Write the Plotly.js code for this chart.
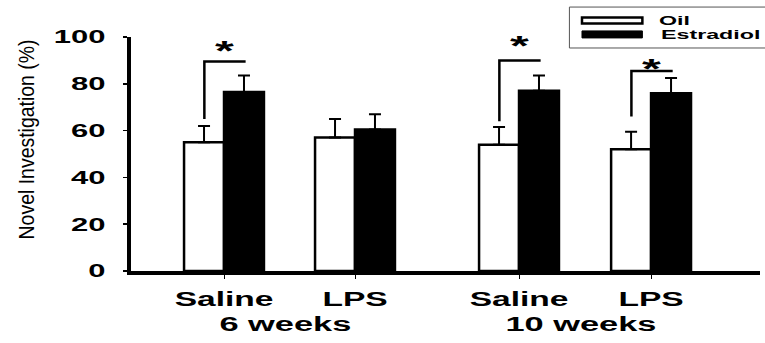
<!DOCTYPE html>
<html>
<head>
<meta charset="utf-8">
<script src="https://cdn.plot.ly/plotly-3.0.1.min.js"></script>
<style>
  html, body { margin: 0; padding: 0; background: #fff; }
  #chart { width: 765px; height: 343px; }
</style>
</head>
<body>
<div id="chart"></div>
<script>
// ---- data ----
const ageGroups = ['6 weeks', '10 weeks'];
const treatments = ['Saline', 'LPS', 'Saline', 'LPS'];
const seriesNames = ['Oil', 'Estradiol'];
const oilMean = [55, 57, 54, 52];
const oilSem = [7, 8, 7.5, 7.5];
const e2Mean = [76.5, 60.5, 77, 76];
const e2Sem = [7, 6.5, 6.5, 6.5];
const yTicks = [0, 20, 40, 60, 80, 100];
const yTitle = 'Novel Investigation (%)';
const sigIndex = [0, 2, 3];          // groups with significant Oil vs Estradiol difference
const sigLow = [65, 64, 66];         // bracket start (above oil bar)
const sigHigh = [89.5, 90, 85.5];    // bracket top
const starLevel = [95.7, 98, 88];    // star visual centre

// ---- layout constants ----
const groupPos = [0, 1, 2.252, 3.26];
const barW = 0.305;
const FONT = 'Liberation Sans, Arial, sans-serif';
const STRETCH = 1.72;

const oilX = groupPos.map(p => p - barW / 2);
const e2X = groupPos.map(p => p + barW / 2);

const traces = [
  {
    type: 'bar', name: seriesNames[0], x: oilX, y: oilMean, width: barW,
    marker: { color: '#ffffff', line: { color: '#000', width: 2.5 } },
    error_y: { type: 'data', symmetric: false, array: oilSem, arrayminus: oilSem.map(() => 0),
               color: '#000', thickness: 2, width: 6 },
    showlegend: false, hoverinfo: 'skip'
  },
  {
    type: 'bar', name: seriesNames[1], x: e2X, y: e2Mean, width: barW,
    marker: { color: '#000000', line: { color: '#000', width: 2.5 } },
    error_y: { type: 'data', symmetric: false, array: e2Sem, arrayminus: e2Sem.map(() => 0),
               color: '#000', thickness: 2, width: 6 },
    showlegend: false, hoverinfo: 'skip'
  }
];

const shapes = [];
const annotations = [];

// significance brackets and stars
sigIndex.forEach((g, k) => {
  const xa = groupPos[g] - 0.15, xb = groupPos[g] + 0.165;
  shapes.push({ type: 'path', xref: 'x', yref: 'y',
    path: `M ${xa} ${sigLow[k]} L ${xa} ${sigHigh[k]} L ${xb} ${sigHigh[k]}`,
    line: { color: '#000', width: 2.5 } });
  annotations.push({ xref: 'x', yref: 'y', x: groupPos[g] + 0.005, y: starLevel[k] - 1.5,
    text: '*', showarrow: false, xanchor: 'center', yanchor: 'middle',
    font: { family: FONT, size: 28, color: '#000', weight: 'bold' } });
});

// age group labels
ageGroups.forEach((lab, i) => {
  const x = (groupPos[2 * i] + groupPos[2 * i + 1]) / 2 - 0.03;
  annotations.push({ xref: 'x', yref: 'paper', x: x, y: -0.226, text: lab, showarrow: false,
    xanchor: 'center', yanchor: 'middle',
    font: { family: FONT, size: 20, color: '#000', weight: 'bold' } });
});

// manual legend (paper coords)
shapes.push({ type: 'rect', xref: 'paper', yref: 'paper', x0: 0.697, x1: 1.015, y0: 0.953, y1: 1.128,
  line: { color: '#555', width: 1 }, fillcolor: '#fff' });
shapes.push({ type: 'rect', xref: 'paper', yref: 'paper', x0: 0.717, x1: 0.813, y0: 1.058, y1: 1.083,
  line: { color: '#000', width: 2.5 }, fillcolor: '#fff' });
shapes.push({ type: 'rect', xref: 'paper', yref: 'paper', x0: 0.717, x1: 0.813, y0: 0.996, y1: 1.026,
  line: { color: '#000', width: 1 }, fillcolor: '#000' });
annotations.push({ xref: 'paper', yref: 'paper', x: 0.836, y: 1.07, text: seriesNames[0], showarrow: false,
  xanchor: 'left', yanchor: 'middle', font: { family: FONT, size: 13.5, color: '#000', weight: 'bold' } });
annotations.push({ xref: 'paper', yref: 'paper', x: 0.839, y: 1.01, text: seriesNames[1], showarrow: false,
  xanchor: 'left', yanchor: 'middle', font: { family: FONT, size: 13.5, color: '#000', weight: 'bold' } });

// y-axis title
annotations.push({ xref: 'paper', yref: 'paper', x: -0.166, y: 0.56, text: yTitle,
  showarrow: false, textangle: -90, xanchor: 'center', yanchor: 'middle',
  font: { family: FONT, size: 22, color: '#000' } });

const layout = {
  width: 765, height: 343,
  margin: { l: 131, r: 5, t: 37, b: 72 },
  paper_bgcolor: '#fff', plot_bgcolor: '#fff',
  barmode: 'overlay',
  showlegend: false,
  xaxis: {
    range: [-0.71, 4.0916], tickvals: groupPos, ticktext: treatments,
    showline: true, linecolor: '#000', linewidth: 4, showgrid: false, zeroline: false,
    ticks: 'outside', ticklen: 4, tickwidth: 1, tickcolor: '#000',
    tickfont: { family: FONT, size: 19.5, color: '#000', weight: 'bold' }, ticklabelstandoff: 4
  },
  yaxis: {
    range: [0, 100], tickvals: yTicks, ticktext: yTicks.map(String),
    showline: true, linecolor: '#000', linewidth: 4, showgrid: false, zeroline: false,
    ticks: 'outside', ticklen: 4, tickwidth: 1.5, tickcolor: '#000',
    tickfont: { family: FONT, size: 18, color: '#000', weight: 'bold' }, ticklabelstandoff: 14
  },
  shapes: shapes,
  annotations: annotations
};

Plotly.newPlot('chart', traces, layout, { staticPlot: true, displayModeBar: false }).then(() => {
  // reproduce the horizontally stretched lettering of the original figure
  const sel = document.querySelectorAll('#chart .xtick text, #chart .ytick text, #chart .annotation-text');
  sel.forEach(t => {
    const w = t.getComputedTextLength();
    if (t.textContent === yTitle) {
      // rotated title: condensed along its reading direction
      t.setAttribute('textLength', '200');
      t.setAttribute('lengthAdjust', 'spacingAndGlyphs');
      return;
    }
    if (seriesNames.indexOf(t.textContent) >= 0) {
      // left-anchored legend labels: keep the left edge in place
      const x0 = parseFloat(t.getAttribute('x')) || 0;
      t.setAttribute('x', (x0 + w * (STRETCH - 1) / 2).toFixed(1));
    }
    t.setAttribute('textLength', (w * STRETCH).toFixed(1));
    t.setAttribute('lengthAdjust', 'spacingAndGlyphs');
  });
});
</script>
</body>
</html>
